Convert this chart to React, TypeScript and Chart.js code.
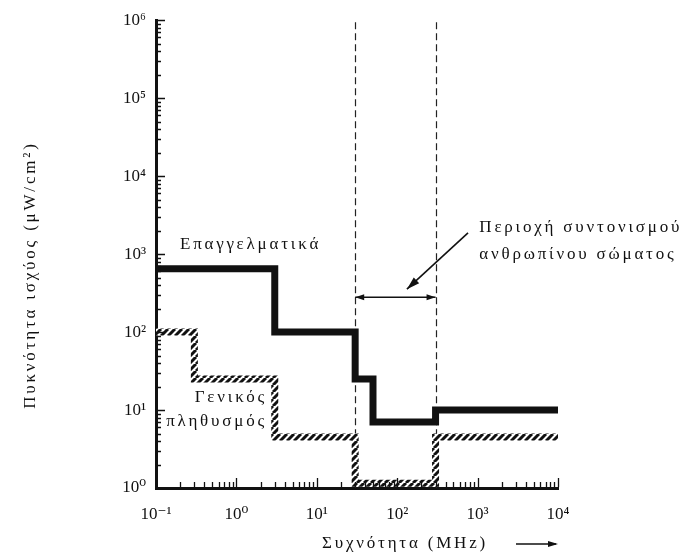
import React, { useEffect, useRef } from 'react';
import { Chart, registerables } from 'chart.js';

Chart.register(...registerables);

// ---- data ----
const freqOccupational = [0.1, 3, 30, 50, 300, 10000];
const densityOccupational = [650, 100, 25, 7, 10, 10];
const freqPublic = [0.1, 0.3, 3, 30, 300, 10000];
const densityPublic = [100, 25, 4.5, 1.15, 4.5, 4.5];

const xTickValues = [0.1, 1, 10, 100, 1000, 10000];
const xTickLabels = ['10⁻¹', '10⁰', '10¹', '10²', '10³', '10⁴'];
const yTickValues = [1, 10, 100, 1000, 10000, 100000, 1000000];
const yTickLabels = ['10⁰', '10¹', '10²', '10³', '10⁴', '10⁵', '10⁶'];

const resonanceBounds = [30, 300];
const resonanceArrowLevel = [280];
const calloutFrom = [760, 1870];
const calloutTo = [132, 355];

const labelOccupational = 'Επαγγελματικά';
const labelOccupationalPos = [1.5, 1320];
const labelPublic = ['Γενικός', 'πληθυσμός'];
const labelPublicPos = [2.4, 14.3, 7.1];
const labelResonance = ['Περιοχή συντονισμού', 'ανθρωπίνου σώματος'];
const labelResonancePos = [1050, 2180, 975];
const xTitle = 'Συχνότητα (MHz)';
const yTitle = 'Πυκνότητα ισχύος (μW/cm²)';

const FONT = '"Liberation Serif", "DejaVu Serif", serif';
const INK = '#111';

function makeHatch(): CanvasPattern | string {
  const s = 7;
  const c = document.createElement('canvas');
  c.width = s;
  c.height = s;
  const g = c.getContext('2d');
  if (!g) return INK;
  g.fillStyle = '#fff';
  g.fillRect(0, 0, s, s);
  g.strokeStyle = INK;
  g.lineWidth = 3;
  g.beginPath();
  for (const k of [-s, 0, s]) {
    g.moveTo(k, s);
    g.lineTo(k + s, 0);
  }
  g.stroke();
  const p = g.createPattern(c, 'repeat');
  return p || INK;
}

function arrowHead(ctx: CanvasRenderingContext2D, fx: number, fy: number, tx: number, ty: number, len: number, half: number) {
  const a = Math.atan2(ty - fy, tx - fx);
  ctx.beginPath();
  ctx.moveTo(tx, ty);
  ctx.lineTo(tx - len * Math.cos(a) + half * Math.sin(a), ty - len * Math.sin(a) - half * Math.cos(a));
  ctx.lineTo(tx - len * Math.cos(a) - half * Math.sin(a), ty - len * Math.sin(a) + half * Math.cos(a));
  ctx.closePath();
  ctx.fill();
}

const overlayPlugin = {
  id: 'overlay',
  beforeDatasetsDraw(chart: any) {
    const { ctx, chartArea, scales } = chart;
    ctx.save();
    ctx.strokeStyle = '#222';
    ctx.lineWidth = 1.2;
    ctx.setLineDash([7, 4]);
    for (const f of resonanceBounds) {
      const x = Math.round(scales.x.getPixelForValue(f)) + 0.5;
      ctx.beginPath();
      ctx.moveTo(x, chartArea.top + 2);
      ctx.lineTo(x, chartArea.bottom);
      ctx.stroke();
    }
    ctx.restore();
  },
  afterDraw(chart: any) {
    const { ctx, chartArea, scales } = chart;
    const xs = scales.x;
    const ys = scales.y;
    ctx.save();
    // inner minor / major ticks
    ctx.strokeStyle = INK;
    ctx.lineWidth = 1.3;
    ctx.beginPath();
    for (let e = -1; e < 4; e++) {
      for (let m = 1; m <= 10; m++) {
        const v = m * Math.pow(10, e);
        if (v <= 0.1 + 1e-9 || v > 10000 + 1e-6) continue;
        const x = Math.round(xs.getPixelForValue(v)) + 0.5;
        const len = m === 10 ? 9 : 5;
        ctx.moveTo(x, chartArea.bottom - 1);
        ctx.lineTo(x, chartArea.bottom - 1 - len);
      }
    }
    for (let e = 0; e < 6; e++) {
      for (let m = 1; m <= 10; m++) {
        const v = m * Math.pow(10, e);
        if (v <= 1 + 1e-9 || v > 1e6 + 1e-3) continue;
        const y = Math.round(ys.getPixelForValue(v)) + 0.5;
        const len = m === 10 ? 8 : 4;
        ctx.moveTo(chartArea.left + 1, y);
        ctx.lineTo(chartArea.left + 1 + len, y);
      }
    }
    ctx.stroke();

    // resonance double arrow
    const ay = ys.getPixelForValue(resonanceArrowLevel[0]);
    const ax1 = xs.getPixelForValue(resonanceBounds[0]);
    const ax2 = xs.getPixelForValue(resonanceBounds[1]);
    ctx.fillStyle = INK;
    ctx.lineWidth = 1.4;
    ctx.beginPath();
    ctx.moveTo(ax1, ay);
    ctx.lineTo(ax2, ay);
    ctx.stroke();
    arrowHead(ctx, ax2, ay, ax1, ay, 9, 3);
    arrowHead(ctx, ax1, ay, ax2, ay, 9, 3);

    // callout arrow
    const cfx = xs.getPixelForValue(calloutFrom[0]);
    const cfy = ys.getPixelForValue(calloutFrom[1]);
    const ctx2 = xs.getPixelForValue(calloutTo[0]);
    const cty = ys.getPixelForValue(calloutTo[1]);
    ctx.lineWidth = 1.6;
    ctx.beginPath();
    ctx.moveTo(cfx, cfy);
    ctx.lineTo(ctx2, cty);
    ctx.stroke();
    arrowHead(ctx, cfx, cfy, ctx2, cty, 13, 4);

    // texts
    ctx.fillStyle = INK;
    ctx.font = `17px ${FONT}`;
    (ctx as any).letterSpacing = '2.8px';
    ctx.textBaseline = 'middle';

    ctx.textAlign = 'center';
    ctx.fillText(labelOccupational, xs.getPixelForValue(labelOccupationalPos[0]), ys.getPixelForValue(labelOccupationalPos[1]));

    ctx.textAlign = 'right';
    const px = xs.getPixelForValue(labelPublicPos[0]);
    ctx.fillText(labelPublic[0], px, ys.getPixelForValue(labelPublicPos[1]));
    ctx.fillText(labelPublic[1], px, ys.getPixelForValue(labelPublicPos[2]));

    ctx.textAlign = 'left';
    const rx = xs.getPixelForValue(labelResonancePos[0]);
    ctx.fillText(labelResonance[0], rx, ys.getPixelForValue(labelResonancePos[1]));
    ctx.fillText(labelResonance[1], rx, ys.getPixelForValue(labelResonancePos[2]));

    // x title + arrow
    ctx.textAlign = 'center';
    const ty = chartArea.bottom + 56;
    ctx.fillText(xTitle, chartArea.left + 249, ty);
    ctx.lineWidth = 1.3;
    ctx.beginPath();
    ctx.moveTo(chartArea.right - 42, ty);
    ctx.lineTo(chartArea.right - 2, ty);
    ctx.stroke();
    arrowHead(ctx, chartArea.right - 42, ty, chartArea.right, ty, 10, 3);

    // y title
    ctx.save();
    ctx.translate(31, (chartArea.top + chartArea.bottom) / 2 + 21);
    ctx.rotate(-Math.PI / 2);
    ctx.textAlign = 'center';
    ctx.fillText(yTitle, 0, 0);
    ctx.restore();

    (ctx as any).letterSpacing = '0px';
    ctx.restore();
  },
};

function labelFor(values: number[], labels: string[], v: number) {
  const i = values.findIndex((t) => Math.abs(Math.log10(t) - Math.log10(v)) < 1e-6);
  return i >= 0 ? labels[i] : '';
}

export default function App() {
  const ref = useRef<HTMLCanvasElement>(null);

  useEffect(() => {
    const canvas = ref.current;
    if (!canvas) return;
    const hatch = makeHatch();
    const chart = new Chart(canvas, {
      type: 'line',
      data: {
        datasets: [
          {
            label: labelOccupational,
            data: freqOccupational.map((x, i) => ({ x, y: densityOccupational[i] })),
            borderColor: INK,
            borderWidth: 7,
            stepped: true,
            pointRadius: 0,
            fill: false,
            borderJoinStyle: 'miter',
            borderCapStyle: 'butt',
          },
          {
            label: labelPublic.join(' '),
            data: freqPublic.map((x, i) => ({ x, y: densityPublic[i] })),
            borderColor: hatch as any,
            borderWidth: 7,
            stepped: true,
            pointRadius: 0,
            fill: false,
            borderJoinStyle: 'miter',
            borderCapStyle: 'butt',
          },
        ],
      },
      options: {
        animation: false,
        responsive: false,
        devicePixelRatio: 1,
        layout: { padding: { left: 0, top: 10, right: 125, bottom: 0 } },
        plugins: {
          legend: { display: false },
          tooltip: { enabled: false },
          title: { display: false },
        },
        scales: {
          x: {
            type: 'logarithmic',
            position: 'bottom',
            min: 0.1,
            max: 10000,
            grid: { display: false, drawTicks: false },
            border: { display: true, color: INK, width: 3 },
            afterBuildTicks: (s: any) => {
              s.ticks = xTickValues.map((value) => ({ value }));
            },
            afterFit: (s: any) => {
              s.height = 69;
            },
            ticks: {
              autoSkip: false,
              maxRotation: 0,
              padding: 16,
              color: INK,
              font: { family: FONT, size: 17 },
              callback: (v: any) => labelFor(xTickValues, xTickLabels, Number(v)),
            },
          },
          y: {
            type: 'logarithmic',
            position: 'left',
            min: 1,
            max: 1000000,
            grid: { display: false, drawTicks: false },
            border: { display: true, color: INK, width: 3 },
            afterBuildTicks: (s: any) => {
              s.ticks = yTickValues.map((value) => ({ value }));
            },
            afterFit: (s: any) => {
              s.width = 156;
            },
            ticks: {
              autoSkip: false,
              padding: 10,
              color: INK,
              font: { family: FONT, size: 17 },
              callback: (v: any) => labelFor(yTickValues, yTickLabels, Number(v)),
            },
          },
        },
      },
      plugins: [overlayPlugin],
    } as any);
    return () => chart.destroy();
  }, []);

  return (
    <div style={{ position: 'fixed', left: 0, top: 0, width: 683, height: 557, background: '#fff' }}>
      <canvas ref={ref} width={683} height={557} style={{ display: 'block', width: 683, height: 557 }} />
    </div>
  );
}
